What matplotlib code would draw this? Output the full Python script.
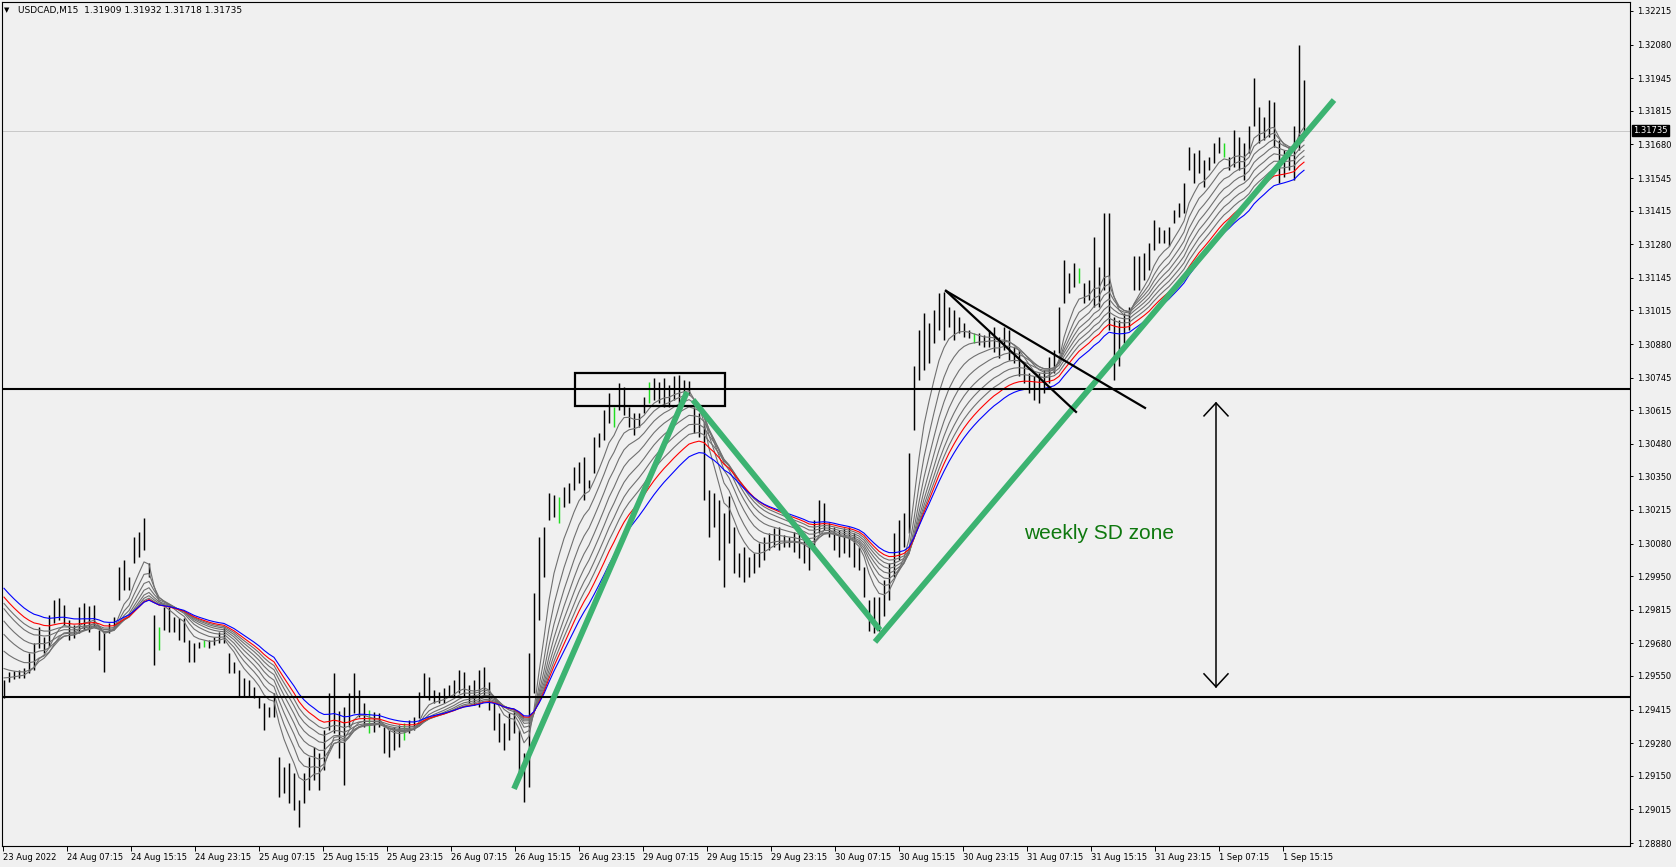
import numpy as np
import matplotlib
matplotlib.use("Agg")
import matplotlib.pyplot as plt
from matplotlib.patches import Rectangle
import matplotlib.transforms as mtransforms

# ---------------- data ----------------
bar_high = [
    1.29533, 1.29567, 1.29571, 1.29574, 1.29580, 1.29640, 1.29680, 1.29747, 1.29707, 1.29794,
    1.29854, 1.29861, 1.29834, 1.29774, 1.29754, 1.29827, 1.29841, 1.29830, 1.29834, 1.29734,
    1.29720, 1.29761, 1.29787, 1.29988, 1.30014, 1.29948, 1.30108, 1.30128, 1.30181, 1.30001,
    1.29794, 1.29747, 1.29827, 1.29827, 1.29787, 1.29781, 1.29781, 1.29694, 1.29680, 1.29687,
    1.29694, 1.29694, 1.29707, 1.29727, 1.29747, 1.29640, 1.29607, 1.29574, 1.29540, 1.29533,
    1.29507, 1.29467, 1.29440, 1.29427, 1.29480, 1.29226, 1.29186, 1.29199, 1.29159, 1.29052,
    1.29159, 1.29226, 1.29266, 1.29240, 1.29333, 1.29480, 1.29560, 1.29410,
    1.29427, 1.29480, 1.29560, 1.29493, 1.29440, 1.29413, 1.29407, 1.29400, 1.29346, 1.29333,
    1.29346, 1.29353, 1.29360, 1.29373, 1.29386, 1.29487, 1.29560, 1.29547, 1.29493, 1.29487,
    1.29500, 1.29513, 1.29533, 1.29574, 1.29567, 1.29513, 1.29533, 1.29574, 1.29587, 1.29527,
    1.29440, 1.29400, 1.29360, 1.29400, 1.29413, 1.29333, 1.29240, 1.29640, 1.29881, 1.30108,
    1.30148, 1.30282, 1.30275, 1.30268, 1.30308, 1.30322, 1.30388, 1.30409, 1.30429, 1.30335,
    1.30509, 1.30522, 1.30616, 1.30682, 1.30629, 1.30722, 1.30709, 1.30629, 1.30602, 1.30602,
    1.30669, 1.30729, 1.30743, 1.30729, 1.30743, 1.30716,
    1.30750, 1.30756, 1.30736, 1.30730, 1.30629, 1.30603, 1.30563, 1.30295, 1.30282, 1.30255,
    1.30202, 1.30269, 1.30148, 1.30041, 1.30068, 1.30028, 1.30041, 1.30082, 1.30108, 1.30122,
    1.30142, 1.30148, 1.30115, 1.30108, 1.30128, 1.30135, 1.30122, 1.30082, 1.30175, 1.30255,
    1.30242, 1.30162, 1.30148, 1.30135, 1.30142, 1.30148, 1.30122, 1.30068, 1.29988, 1.29854,
    1.29868, 1.29868, 1.29935, 1.30001, 1.30122, 1.30175, 1.30202, 1.30442, 1.30790, 1.30937,
    1.31003, 1.30963, 1.31017, 1.31084, 1.31090, 1.31030, 1.31017, 1.30990, 1.30963, 1.30937,
    1.30923, 1.30923, 1.30917, 1.30937, 1.30950, 1.30910,
    1.30950, 1.30937, 1.30870, 1.30856, 1.30803, 1.30763, 1.30750, 1.30763, 1.30776, 1.30830,
    1.30856, 1.31030, 1.31217, 1.31164, 1.31204, 1.31184, 1.31124, 1.31137, 1.31311, 1.31190,
    1.31404, 1.31404, 1.30990, 1.30977, 1.31003, 1.31030, 1.31231, 1.31231, 1.31244, 1.31284,
    1.31378, 1.31351, 1.31337, 1.31351, 1.31418, 1.31444, 1.31524, 1.31671, 1.31645, 1.31658,
    1.31618, 1.31631, 1.31685, 1.31711, 1.31685, 1.31631, 1.31738, 1.31711, 1.31685, 1.31752,
    1.31945, 1.31832, 1.31792, 1.31858, 1.31852, 1.31698, 1.31658, 1.31671, 1.31752, 1.32079,
    1.31939,
]
bar_low = [
    1.29460, 1.29527, 1.29536, 1.29540, 1.29543, 1.29560, 1.29574, 1.29660, 1.29640, 1.29667,
    1.29761, 1.29774, 1.29754, 1.29694, 1.29700, 1.29720, 1.29734, 1.29727, 1.29747, 1.29654,
    1.29567, 1.29720, 1.29747, 1.29854, 1.29894, 1.29894, 1.30001, 1.30028, 1.30054, 1.29948,
    1.29594, 1.29654, 1.29734, 1.29727, 1.29727, 1.29694, 1.29687, 1.29607, 1.29607, 1.29660,
    1.29667, 1.29660, 1.29674, 1.29680, 1.29680, 1.29560, 1.29560, 1.29467, 1.29467, 1.29467,
    1.29460, 1.29420, 1.29333, 1.29384, 1.29384, 1.29066, 1.29079, 1.29039, 1.29012, 1.28946,
    1.29039, 1.29093, 1.29133, 1.29093, 1.29173, 1.29333, 1.29320, 1.29220,
    1.29113, 1.29346, 1.29400, 1.29386, 1.29346, 1.29320, 1.29326, 1.29346, 1.29240, 1.29226,
    1.29253, 1.29266, 1.29293, 1.29320, 1.29333, 1.29380, 1.29467, 1.29453, 1.29440, 1.29440,
    1.29440, 1.29467, 1.29467, 1.29480, 1.29467, 1.29440, 1.29433, 1.29427, 1.29467, 1.29413,
    1.29333, 1.29286, 1.29253, 1.29293, 1.29320, 1.29146, 1.29046, 1.29106, 1.29480, 1.29774,
    1.29948, 1.30175, 1.30188, 1.30161, 1.30228, 1.30241, 1.30295, 1.30322, 1.30255, 1.30302,
    1.30362, 1.30469, 1.30495, 1.30562, 1.30549, 1.30616, 1.30596, 1.30549, 1.30515, 1.30549,
    1.30602, 1.30642, 1.30656, 1.30642, 1.30629, 1.30629,
    1.30656, 1.30643, 1.30669, 1.30676, 1.30522, 1.30509, 1.30255, 1.30108, 1.30148, 1.30015,
    1.29908, 1.30082, 1.29961, 1.29948, 1.29928, 1.29948, 1.29961, 1.29988, 1.30015, 1.30055,
    1.30068, 1.30055, 1.30068, 1.30068, 1.30048, 1.30021, 1.30001, 1.29975, 1.30068, 1.30122,
    1.30135, 1.30108, 1.30055, 1.30028, 1.30041, 1.30028, 1.29988, 1.29975, 1.29868, 1.29728,
    1.29721, 1.29728, 1.29788, 1.29854, 1.29948, 1.30015, 1.30068, 1.30122, 1.30536, 1.30736,
    1.30776, 1.30803, 1.30883, 1.30937, 1.30897, 1.30950, 1.30897, 1.30923, 1.30910, 1.30903,
    1.30883, 1.30877, 1.30870, 1.30870, 1.30850, 1.30823,
    1.30856, 1.30816, 1.30803, 1.30750, 1.30723, 1.30683, 1.30656, 1.30643, 1.30683, 1.30723,
    1.30763, 1.30843, 1.31043, 1.31084, 1.31110, 1.31124, 1.31044, 1.31057, 1.31030, 1.31030,
    1.31097, 1.30937, 1.30736, 1.30790, 1.30883, 1.30937, 1.31097, 1.31097, 1.31137, 1.31177,
    1.31257, 1.31284, 1.31284, 1.31271, 1.31364, 1.31391, 1.31404, 1.31578, 1.31524, 1.31565,
    1.31511, 1.31578, 1.31605, 1.31645, 1.31631, 1.31578, 1.31591, 1.31578, 1.31538, 1.31645,
    1.31752, 1.31685, 1.31698, 1.31711, 1.31671, 1.31524, 1.31551, 1.31578, 1.31538, 1.31658,
    1.31712,
]
green_bars = [31, 40, 73, 80, 111, 122, 129, 194, 215, 244]

# moving averages (EMA of median price), starting values read at the left edge
ma_gray_periods = [6, 9, 12, 15, 18, 21, 24]
ma_gray_start = [1.29560, 1.29600, 1.29676, 1.29747, 1.29801, 1.29851, 1.29870]
ma_red_period, ma_red_start = 27, 1.29894
ma_blue_period, ma_blue_start = 31, 1.29928

time_labels = ["23 Aug 2022", "24 Aug 07:15", "24 Aug 15:15", "24 Aug 23:15", "25 Aug 07:15",
               "25 Aug 15:15", "25 Aug 23:15", "26 Aug 07:15", "26 Aug 15:15", "26 Aug 23:15",
               "29 Aug 07:15", "29 Aug 15:15", "29 Aug 23:15", "30 Aug 07:15", "30 Aug 15:15",
               "30 Aug 23:15", "31 Aug 07:15", "31 Aug 15:15", "31 Aug 23:15", "1 Sep 07:15",
               "1 Sep 15:15"]
price_ticks = [1.32215, 1.32080, 1.31945, 1.31815, 1.31680, 1.31545, 1.31415, 1.31280, 1.31145,
               1.31015, 1.30880, 1.30745, 1.30615, 1.30480, 1.30350, 1.30215, 1.30080, 1.29950,
               1.29815, 1.29680, 1.29550, 1.29415, 1.29280, 1.29150, 1.29015, 1.28880]
level_upper = 1.30700
level_lower = 1.29467
last_price = 1.31735
header_text = "USDCAD,M15  1.31909 1.31932 1.31718 1.31735"
zone_text = "weekly SD zone"

# drawn objects (bar index, price)
box = (114.2, 1.30633, 144.2, 1.30765)
green_legs = [((102.0, 1.29097), (136.6, 1.30688)),
              ((137.8, 1.30656), (175.2, 1.29734)),
              ((174.2, 1.29686), (266.0, 1.31858))]
black_legs = [((188.4, 1.31093), (228.2, 1.30624)),
              ((188.4, 1.31093), (214.4, 1.30608))]
arrow_x, arrow_top, arrow_bottom = 242.4, 1.30644, 1.29506
zone_text_pos = (204.0, 1.30119)

# ---------------- figure ----------------
W, H = 1676, 867
BG = "#F0F0F0"
plt.rcParams['font.family'] = ['DejaVu Sans']
fig = plt.figure(figsize=(W / 100, H / 100), dpi=100, facecolor=BG)
ax = fig.add_axes([2 / W, 21 / H, 1628 / W, 844 / H], facecolor=BG)

n = len(bar_high)
x = np.arange(n)
hi = np.array(bar_high)
lo = np.array(bar_low)
colors = ["#22DD22" if i in green_bars else "black" for i in range(n)]
ax.vlines(x, lo, hi, colors=colors, linewidth=1.05, zorder=2)

mid = (hi + lo) / 2.0


def ema(series, period, start):
    a = 2.0 / (period + 1.0)
    out = np.empty(len(series))
    v = start
    for k, p in enumerate(series):
        v = v + a * (p - v)
        out[k] = v
    return out


for per, st in zip(ma_gray_periods, ma_gray_start):
    ax.plot(x, ema(mid, per, st), color="#707070", linewidth=0.8, zorder=3)
ax.plot(x, ema(mid, ma_red_period, ma_red_start), color="#FF0000", linewidth=0.8, zorder=3)
ax.plot(x, ema(mid, ma_blue_period, ma_blue_start), color="#0000FF", linewidth=0.8, zorder=3)

# last price line
ax.axhline(last_price, color="#C8C8C8", linewidth=0.7, zorder=1)

# horizontal levels
ax.axhline(level_upper, color="black", linewidth=1.5, zorder=5)
ax.axhline(level_lower, color="black", linewidth=1.5, zorder=5)

# rectangle
ax.add_patch(Rectangle((box[0], box[1]), box[2] - box[0], box[3] - box[1],
                       fill=False, edgecolor="black", linewidth=1.6, zorder=5))

# green trend legs
for (x0, y0), (x1, y1) in green_legs:
    ax.plot([x0, x1], [y0, y1], color="#3CB371", linewidth=4.2,
            solid_capstyle="butt", zorder=6)

# black wedge lines
for (x0, y0), (x1, y1) in black_legs:
    ax.plot([x0, x1], [y0, y1], color="black", linewidth=1.6, zorder=6)

# double arrow
hw = 2.4
hl = 0.00052
ax.plot([arrow_x, arrow_x], [arrow_bottom, arrow_top], color="black", linewidth=1.1, zorder=6)
ax.plot([arrow_x - hw, arrow_x, arrow_x + hw], [arrow_top - hl, arrow_top, arrow_top - hl],
        color="black", linewidth=1.1, zorder=6)
ax.plot([arrow_x - hw, arrow_x, arrow_x + hw], [arrow_bottom + hl, arrow_bottom, arrow_bottom + hl],
        color="black", linewidth=1.1, zorder=6)

ax.text(zone_text_pos[0], zone_text_pos[1], zone_text, color="#0E780E", fontsize=15,
        family="Liberation Sans", ha="left", va="center", zorder=7)

# ---------------- axes ----------------
ax.set_xlim(-0.4, 325.2)
ax.set_ylim(1.28868, 1.32251)

for s in ax.spines.values():
    s.set_color("black")
    s.set_linewidth(0.8)

ax.yaxis.tick_right()
ax.set_yticks(price_ticks)
ax.set_yticklabels([f"{v:.5f}" for v in price_ticks])
ax.tick_params(axis="y", direction="out", length=2.5, width=0.7, pad=2.5,
               labelsize=6, colors="black")

xt = [-0.2 + 12.8 * k for k in range(len(time_labels))]
ax.set_xticks(xt)
ax.set_xticklabels(time_labels, ha="left")
ax.tick_params(axis="x", direction="out", length=3.5, width=0.7, pad=1.5,
               labelsize=6, colors="black")

# current price marker on the scale
trans = mtransforms.blended_transform_factory(ax.transAxes, ax.transData)
ax.text(1.0 + 3 / 1628, last_price, f"{last_price:.5f}", transform=trans, color="white",
        fontsize=6, ha="left", va="center", zorder=8, clip_on=False,
        bbox=dict(boxstyle="square,pad=0.15", facecolor="black", edgecolor="black"))

# header
fig.text(4 / W, 1 - 10 / H, "\u25BC", fontsize=5, ha="left", va="center", color="black")
fig.text(18 / W, 1 - 10 / H, header_text, fontsize=6.5, ha="left", va="center", color="black")

fig.savefig("out.png", dpi=100, facecolor=BG)
